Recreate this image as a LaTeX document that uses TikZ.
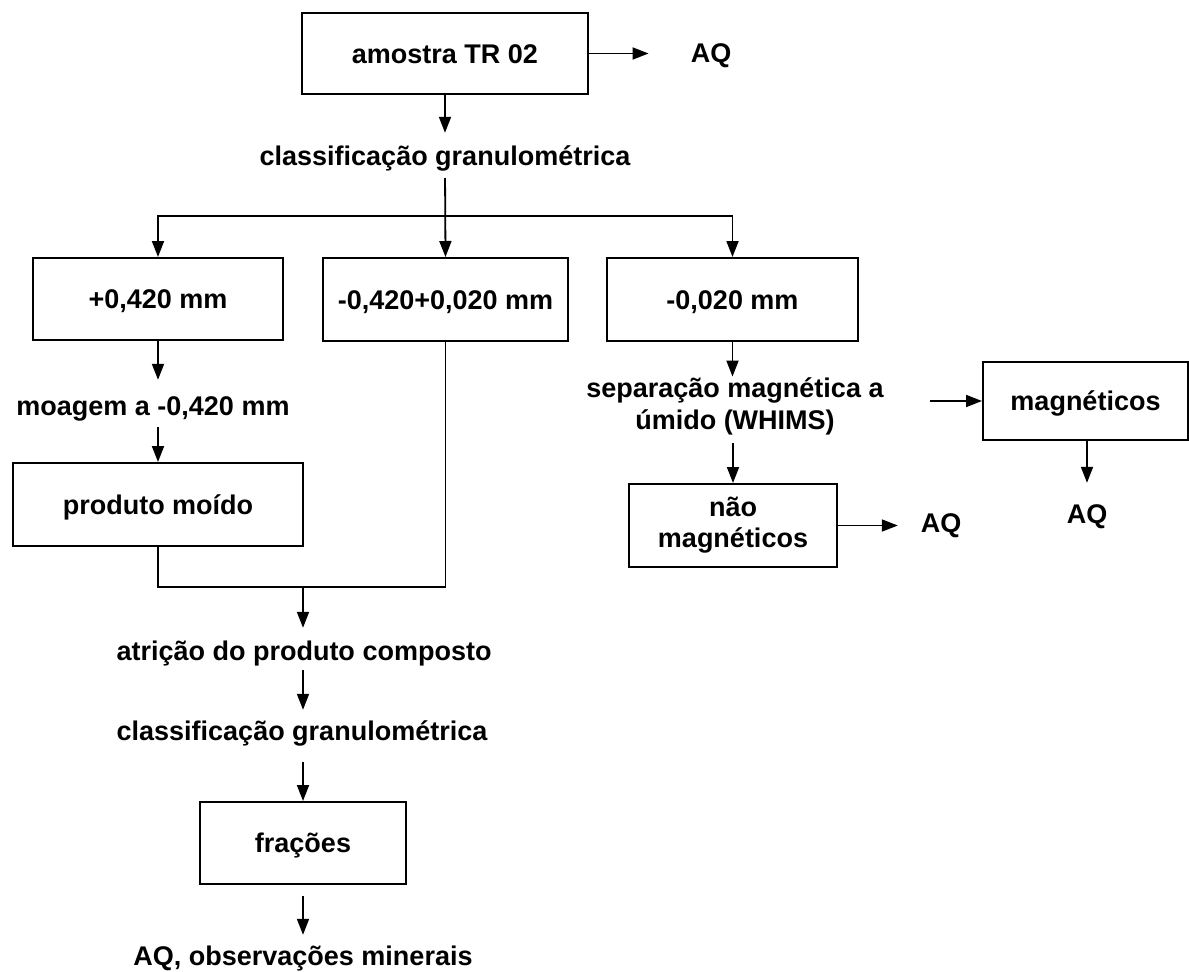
\documentclass[tikz,border=0pt]{standalone}
\usepackage{fontspec}
\setmainfont{Liberation Sans}
\usetikzlibrary{arrows.meta}
\newcommand\labfont{\fontsize{27}{31}\selectfont\bfseries}
\tikzset{
  box/.style={draw, line width=2pt, inner sep=0pt, font=\labfont,
              text height=19.3pt, text depth=0pt},
  twobox/.style={draw, line width=2pt, inner sep=0pt, font=\labfont, align=center},
  lbl/.style={inner sep=0pt, font=\labfont, anchor=base,
              text height=20.25pt, text depth=5.9pt},
  arr/.style={line width=1.8pt, -{Triangle[length=16pt,width=12pt]}},
  ln/.style={line width=1.8pt}
}
\begin{document}
\begin{tikzpicture}[x=1pt,y=-1pt]
\useasboundingbox (0,0) rectangle (1189,972);

% boxes
\node[box, minimum width=286pt, minimum height=81pt] (amostra) at (445,53.5) {amostra TR 02};
\node[box, minimum width=250pt, minimum height=82pt] (b1) at (158,299) {+0,420 mm};
\node[box, minimum width=245pt, minimum height=83pt] (b2) at (445.5,299.5) {-0,420+0,020 mm};
\node[box, minimum width=251pt, minimum height=83pt] (b3) at (732.5,299.5) {-0,020 mm};
\node[box, minimum width=290pt, minimum height=83pt] (prod) at (158,504.5) {produto moído};
\node[box, minimum width=206pt, minimum height=82pt] (fra) at (303,843) {frações};
\node[twobox, minimum width=208pt, minimum height=83pt] (nao) at (733,525.5) {não\\magnéticos};
\node[box, minimum width=205pt, minimum height=78pt] (mag) at (1085.5,401) {magnéticos};

% free-standing labels
\node[lbl] (aq1) at (711,62) {AQ};
\node[lbl] (cls1) at (445,165) {classificação granulométrica};
\node[lbl] (moag) at (153,415) {moagem a -0,420 mm};
\node[lbl] (atr) at (304,660) {atrição do produto composto};
\node[lbl] (cls2) at (302,740) {classificação granulométrica};
\node[lbl] (aqobs) at (303,965) {AQ, observações minerais};
\node[lbl] (sep1) at (735,397) {separação magnética a};
\node[lbl] (sep2) at (735,429) {úmido (WHIMS)};
\node[lbl] (aq2) at (941,532) {AQ};
\node[lbl] (aq3) at (1087,523) {AQ};

% junction points
\coordinate (split) at (445,216);
\coordinate (join) at (303,587);
\coordinate (magin) at (930,401);

% connectors
\draw[arr, shorten >=42pt] (amostra.east) -- (amostra.east -| aq1.west);
\draw[arr, shorten >=11.75pt] (amostra.south) -- (amostra.south |- cls1.north);
\draw[arr, shorten <=7pt] (cls1.south) -- (b2.north);
\draw[arr] (split) -| (b1.north);
\draw[arr] (split) -| (b3.north);
\draw[arr, shorten >=14.75pt] (b1.south) -- (b1.south |- moag.north);
\draw[arr, shorten <=6pt] (prod.north |- moag.south) -- (prod.north);
\draw[ln] (prod.south) |- (join) -| (b2.south);
\draw[arr, shorten >=11.75pt] (join) -- (join |- atr.north);
\draw[arr, shorten <=4pt, shorten >=9.75pt] (join |- atr.south) -- (join |- cls2.north);
\draw[arr, shorten <=16pt] (fra.north |- cls2.south) -- (fra.north);
\draw[arr, shorten <=11pt, shorten >=9.75pt] (fra.south) -- (fra.south |- aqobs.north);
\draw[arr] (b3.south) -- (b3.south |- sep1.north);
\draw[arr, shorten <=8pt] (nao.north |- sep2.south) -- (nao.north);
\draw[arr, shorten >=22.75pt] (nao.east) -- (nao.east -| aq2.west);
\draw[arr] (magin) -- (mag.west);
\draw[arr, shorten >=19.75pt] (mag.south -| aq3.north) -- (aq3.north);
\end{tikzpicture}
\end{document}
